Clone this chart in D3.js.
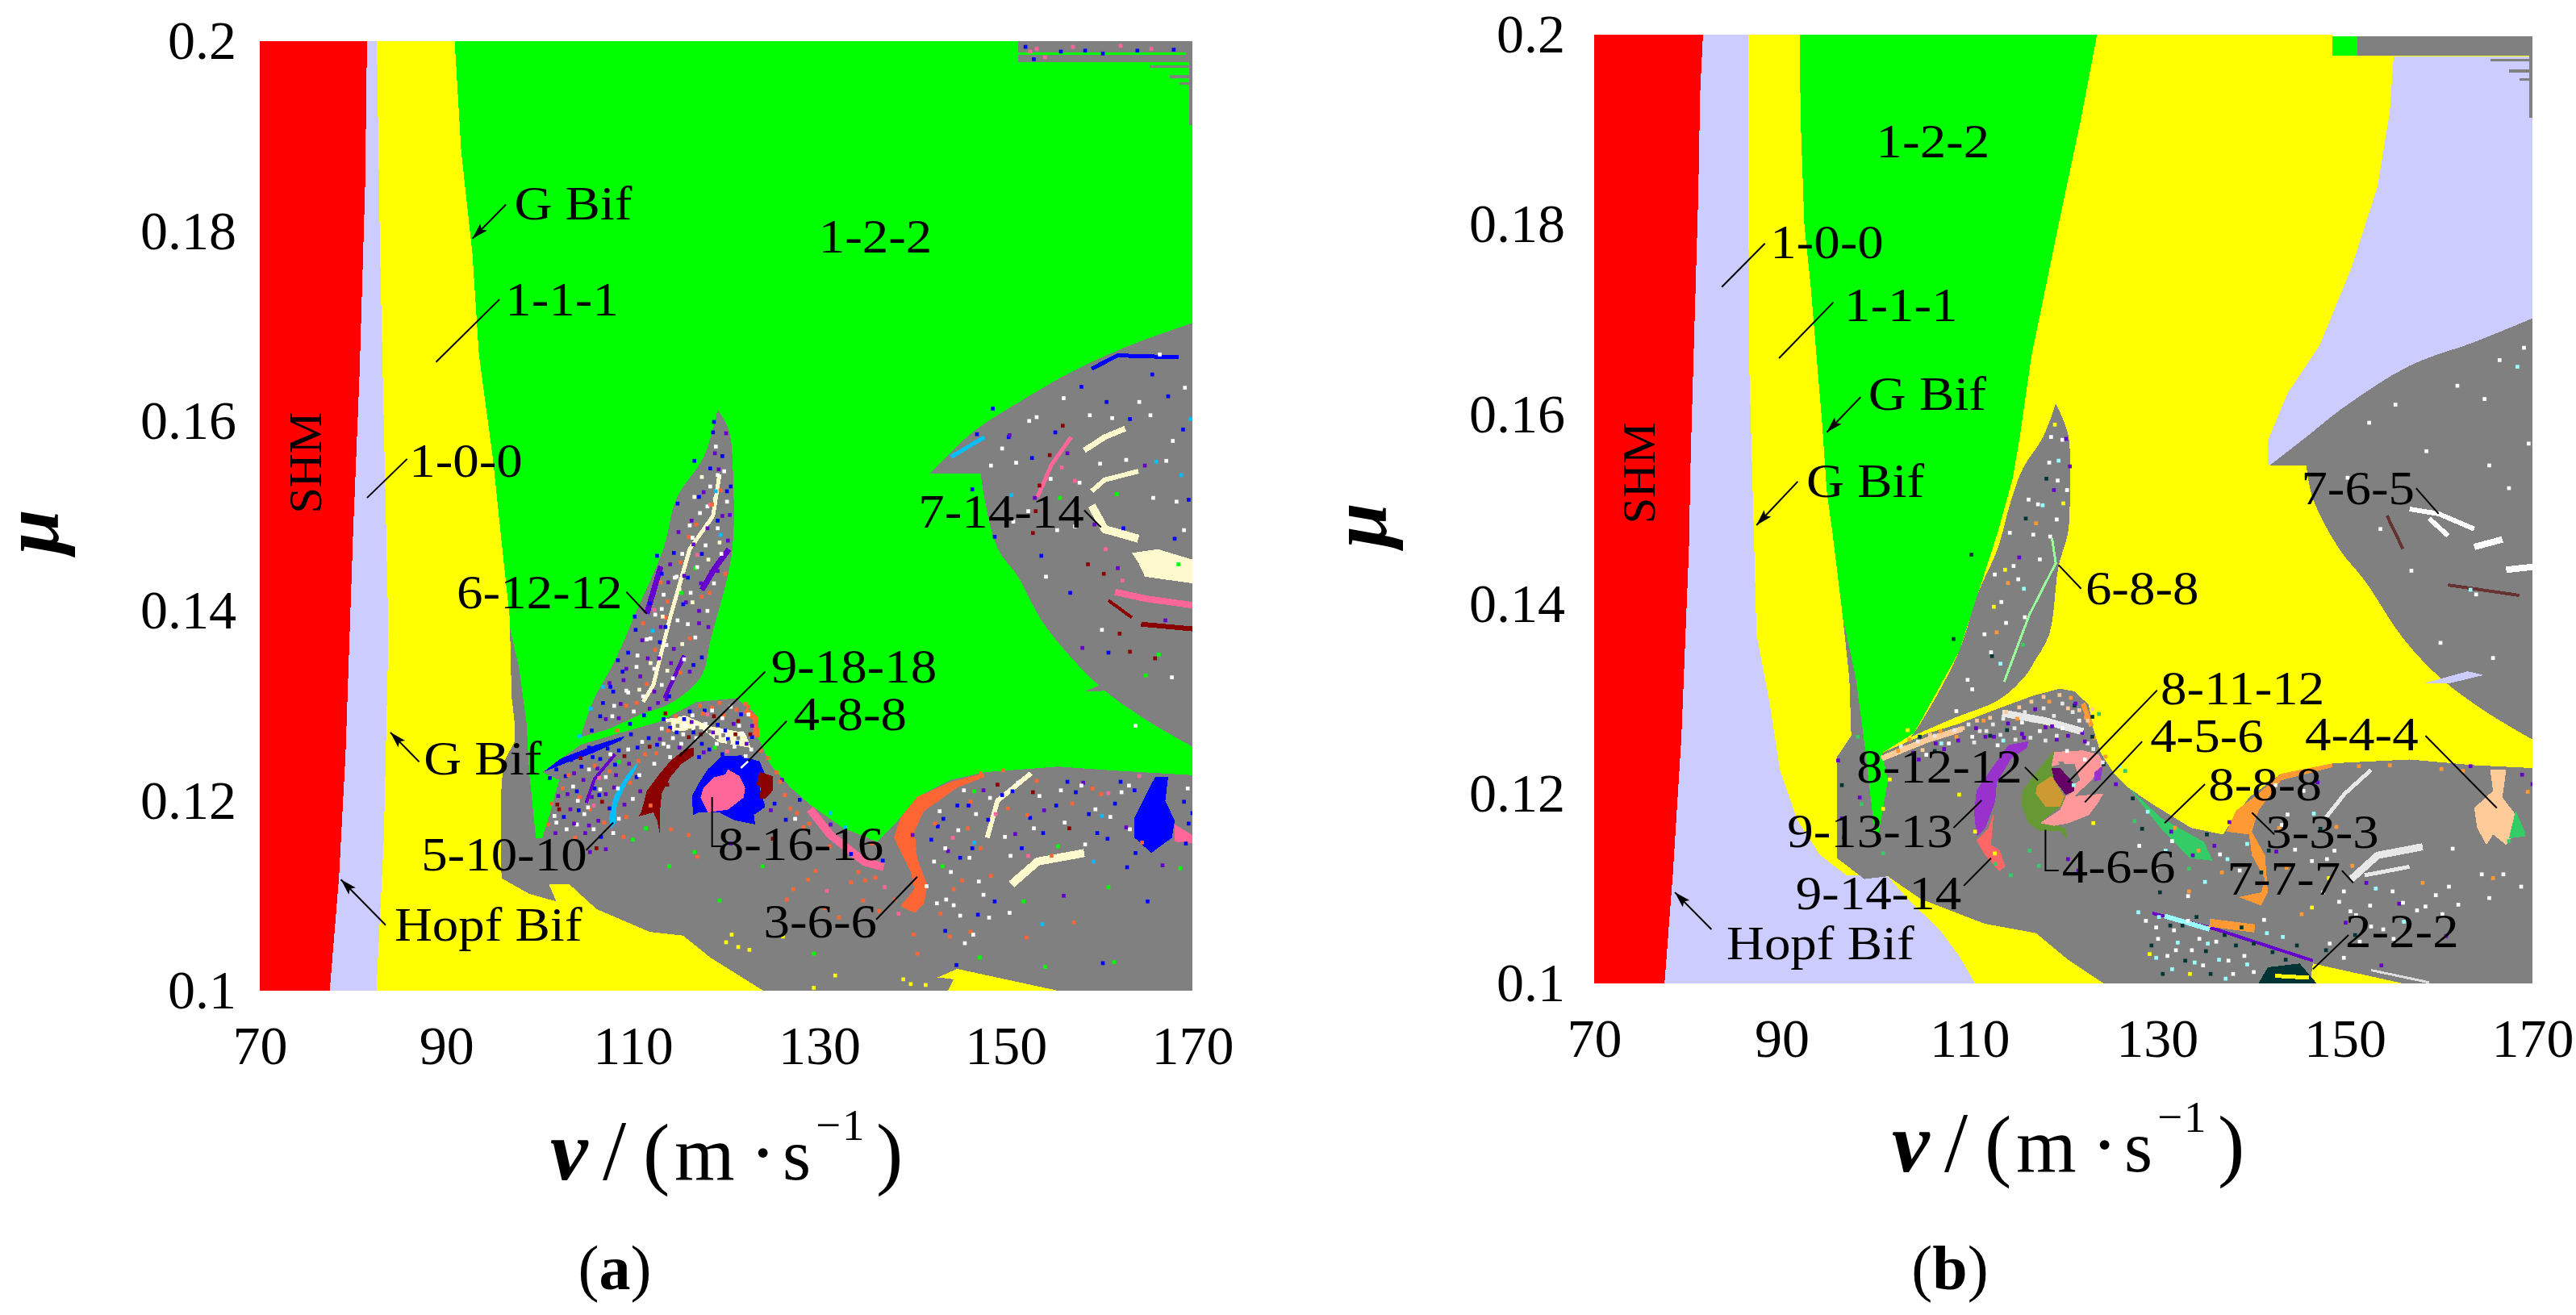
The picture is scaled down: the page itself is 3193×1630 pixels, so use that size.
<!DOCTYPE html>
<html>
<head>
<meta charset="utf-8">
<script src="https://cdn.jsdelivr.net/npm/d3@7"></script>
<style>
html, body { margin: 0; background: #fff; }
text { font-family: "Liberation Serif", serif; fill: #000; }
</style>
</head>
<body>
<svg width="3193" height="1630"></svg>
<script>
var vTicks = [70, 90, 110, 130, 150, 170];
var muTicks = [0.1, 0.12, 0.14, 0.16, 0.18, 0.2];

// ---- panel (a) regions, [v, mu]
var aRed = [[70,.2],[81.5,.2],[81.3,.185],[80.7,.165],[80,.148],[79.2,.125],[78.5,.112],[77.5,.1],[70,.1]];
var aLav = [[80,.2],[82.55,.2],[82.9,.1776],[83.8,.1375],[83.3,.116],[82.55,.1],[76,.1]];
var aYellow = [[90.9,.2],[91.6,.1884],[92.8,.1776],[93.5,.167],[95,.156],[96,.1466],[96.8,.1393],[97,.131],[97.3,.1284],[97.3,.1262],[96.1,.1239],[95.9,.1211],[95.9,.1125],[96,.1118],[98.9,.1102],[101.8,.1094],[101,.1112],[103.2,.1112],[106.1,.1086],[111.8,.1062],[115.4,.1058],[118.3,.1035],[124,.1],[82.5,.1],[83.3,.116],[83.8,.1375],[82.9,.1776],[82.55,.2]];
var aYellow2 = [[142.7,.1014],[144.8,.1023],[149,.1014],[155.6,.1],[143.8,.1],[144.4,.1012]];
var aBlob = [[96.8,.1383],[97.8,.134],[98.6,.1282],[98.9,.1229],[99.6,.1161],[100.3,.1161],[101.1,.1186],[102.1,.1222],[100.3,.123],[104.4,.1259],[108.1,.127],[112.8,.1283],[116.8,.1304],[121.1,.1308],[123,.1293],[123.3,.1267],[123.7,.1261],[124.7,.1239],[126.9,.1214],[129,.1196],[132.6,.1171],[136.2,.1157],[138.4,.1179],[140.5,.1204],[144.1,.1222],[147.7,.123],[155.6,.1236],[161.3,.1232],[170,.1227],[170,.1],[95,.1],[95,.1383]];
var aHorn = [[119.1,.1612],[119.1,.1612],[117.6,.1562],[114.7,.1519],[113.3,.1466],[110.4,.14],[108.2,.135],[105.7,.1304],[104.4,.1267],[104.4,.1267],[107.5,.1276],[110.6,.129],[114.3,.1304],[117.4,.1332],[118.3,.1368],[120.4,.1447],[120.8,.1483],[120.8,.1526],[120.3,.159]];
var aRight = [[170,.1703],[170,.1703],[164.2,.1683],[157.7,.1655],[150.6,.1615],[146.3,.1587],[141.9,.1545],[141.9,.1545],[147.3,.1545],[147.3,.1545],[147.7,.1519],[149.1,.1466],[151.3,.1436],[154.1,.1386],[159.9,.1322],[164.9,.1286],[170,.1257],[170,.1257]];
var aTop = [[151.3,.2],[170,.2],[170,.1978],[151.3,.1978]];
var aBit = [[158.4,.1315],[160.6,.1324],[164.5,.1329],[164.9,.1318],[161.3,.1316]];
var aDarkRed = [[116.5,.12558],[115.6,.12544],[114,.12416],[112.8,.12275],[111.5,.12105],[110.9,.11878],[110.6,.11835],[112.2,.11878],[112.6,.11793],[112.9,.11651],[112.9,.11878],[113.1,.12076],[114,.12246],[115.2,.12388],[116.5,.12473]];
var aBlue = [[119.57,.12473],[121.43,.12473],[123.59,.12416],[124.21,.12275],[123.59,.12133],[124.21,.11935],[122.97,.1185],[123.13,.1175],[120.96,.11793],[119.26,.11878],[117.1,.11878],[116.48,.1185],[116.33,.12048],[117.1,.1219],[118.03,.12331],[118.96,.12416]];
var aPink = [[120.19,.12331],[121.43,.1226],[122.05,.12133],[121.89,.12034],[120.19,.11906],[118.03,.11878],[117.26,.12034],[117.56,.12133],[118.65,.12246],[119.88,.12275]];
var aDarkRed2 = [[123.59,.12303],[124.98,.1226],[124.98,.12105],[124.21,.1202],[123.59,.1202],[123.74,.12133],[123.28,.12175]];
var aCyan = [[110.6,.12416],[109.38,.12275],[107.99,.12048],[107.46,.11821],[107.68,.11708],[108.14,.11765],[108.3,.11963],[109.07,.12133],[110.3,.12331]];
var aCream = [[113.4,.12856],[115.56,.12898],[118.34,.12785],[122.05,.12714],[122.66,.12558],[119.26,.12615],[117.41,.12756],[114.32,.12728]];
var aBlueTip = [[100.4,.12303],[102.27,.12445],[105.98,.12586],[108.76,.12671],[109.2,.1268],[108.76,.12635],[105.67,.12501],[102.58,.12388]];
var aOrange = [[147.7,.1229],[144.1,.122],[140.5,.1204],[138.7,.1182],[138,.1161],[139.1,.1139],[139.8,.1125],[140.2,.1107],[138.7,.1089],[140.2,.1082],[141.2,.1091],[141.6,.1111],[140.5,.1139],[140.2,.1168],[141.2,.1189],[144.8,.1214],[147.7,.1225]];
var aBigBlue = [[166,.1225],[167.4,.1225],[167.1,.12],[168.1,.1179],[167.8,.1161],[165.6,.1145],[163.8,.1161],[163.8,.1182],[164.9,.1204]];
var aPinkEdge = [[168.1,.1175],[170,.1164],[170,.1155],[168.1,.1157]];
var aCreamPatch = [[163.5,.1461],[166.3,.1465],[170,.1454],[170,.1429],[164.9,.1436],[164.2,.1451]];

// ---- panel (a) streaks
var aHornCream = [[119.3,.1544],[118.6,.15],[116.1,.1465],[114,.1393],[112.2,.1322],[111.1,.1304]];
var aHornPurple1 = [[120.3,.1465],[118.8,.1445],[117.4,.1422]];
var aHornPurple2 = [[111.5,.1397],[113,.1447]];
var aHornPurple3 = [[115.5,.1353],[113.4,.1308]];
var aCrescPurpleS = [[105,.1198],[105.9,.1223],[108.1,.1249]];
var aS1 = [[162.8,.1592],[160.6,.1583],[158.4,.1569]];
var aS2 = [[164.2,.1547],[160.6,.1538],[159.2,.1526]];
var aS3 = [[159.2,.1511],[160.6,.1486],[164.2,.1476]];
var aPinkS1 = [[161.7,.142],[164.9,.1413],[170,.1406]];
var aPinkS2 = [[157,.1583],[154.9,.1554],[153.4,.152]];
var aDarkS1 = [[164.5,.1386],[170,.1381]];
var aDarkS2 = [[161,.1411],[163.5,.1393]];
var aBlueS = [[159.2,.1655],[162,.1669],[168.5,.1667]];
var aCyanS = [[144.1,.1562],[147.7,.1583]];
var aCreamS1 = [[152.7,.1229],[149.1,.12],[148,.1161]];
var aCreamS2 = [[158.4,.1145],[153.4,.1136],[150.6,.1112]];
var aPinkTrail = [[129,.1191],[131.2,.1164],[134.8,.1136],[136.9,.113]];
var aOrangeTop = [[122.05,.12955],[123.1,.1287],[123.3,.1267]];
var aGreenLine = [[151.3,.1987],[169.3,.1987]];
var aStep1 = [[165.4,.1973],[170,.1973]];
var aStep2 = [[167.6,.1963],[170,.1963]];
var aStep3 = [[168.6,.1955],[170,.1955]];
var aStepEdge = [[169.8,.1978],[169.8,.1912]];

// ---- panel (a) speckle cells
var aBlueDots = [[108.2,.135],[107.4,.1322],[106.6,.1305],[110,.1396],[112.4,.146],[114.6,.1515],[116.4,.156],[118.4,.159],[119.4,.1565],[120.3,.1533],[118.9,.1497],[115.7,.1437],[113.3,.1385],[109.5,.1283],[111,.1292],[113.8,.1279],[115.3,.1288],[117.5,.1297],[119.7,.1276],[121,.1263],[122.6,.1269],[116.9,.1248],[118,.1256],[105.5,.1248],[107.9,.124],[110.2,.1227],[104,.1192],[106.2,.1208],[125,.1199],[126.2,.1182],[127.7,.1203],[133.2,.1146],[136.6,.1139],[142.5,.1175],[144.6,.1197],[146.2,.1152],[148.6,.1096],[150.5,.1212],[152.4,.1184],[155.2,.1197],[157.3,.1211],[159.6,.1168],[161.5,.1199],[162.8,.1132],[168.9,.1201],[169.4,.1178],[165,.1096],[160.2,.1031],[146.7,.1588],[148.4,.1615],[150.1,.1585],[152.6,.1563],[155.1,.159],[157.9,.1638],[160.6,.1622],[163.1,.1604],[165.5,.1651],[167.2,.1628],[168.8,.1593],[146.2,.153],[148.6,.148],[153.6,.146],[156.7,.1421],[160.8,.1358],[167.9,.1478],[169.4,.1519],[162.4,.1489]];
var aPurpleDots = [[116.1,.1497],[117.4,.1527],[118.6,.1568],[113.8,.1451],[111.9,.1418],[110.8,.1371],[112.6,.1352],[114.2,.1362],[115.5,.1411],[116.9,.1389],[118.2,.1443],[119.4,.1502],[107.3,.1326],[109.1,.1341],[108.5,.1304],[112.1,.1317],[113.4,.1309],[103.5,.1231],[105.4,.1206],[106.1,.1181],[107.8,.1216],[104.7,.1168],[102.8,.1209],[108.9,.1198],[106.9,.1151],[125.8,.1224],[124.6,.1192],[120.3,.1157],[131,.1177],[139.8,.1166],[143.6,.1149],[147.4,.1213],[150.8,.1167],[153.9,.1192],[158.1,.1221],[162.7,.1174],[166.6,.1134],[156,.1102],[150.2,.1587],[152.9,.1521],[156.4,.1568],[159.3,.1493],[161.8,.1447],[164.7,.1555],[158,.1363],[166.9,.1392]];
var aOrangeDots = [[100.7,.1177],[102.3,.1215],[103.6,.1163],[105.2,.1193],[109.1,.1185],[110.4,.1244],[111.7,.1197],[113.9,.1172],[115.8,.1166],[116.7,.1143],[119.6,.1292],[120.9,.1298],[122.2,.1301],[118.3,.13],[117.3,.1294],[113.6,.1276],[125.6,.1222],[126.7,.1194],[128.1,.1174],[129.4,.1128],[127,.1109],[130.4,.1089],[133.2,.1116],[134.5,.1097],[137.9,.1098],[142.3,.1202],[145.7,.1173],[147.1,.1231],[149.5,.1234],[152.1,.1187],[154.7,.1144],[157.1,.1074],[160,.1209],[164.4,.1158],[146,.1064],[139.9,.1061],[110.9,.1389],[112.8,.1432],[115.8,.148],[113.3,.1395],[117.2,.1417],[143.8,.1059],[152,.1058]];
var aWhiteDots = [[110.3,.1355],[111.7,.1373],[112.9,.1404],[114.5,.1438],[116.2,.1479],[117.8,.1512],[118.9,.1545],[109.3,.1316],[107.6,.1291],[115.7,.1388],[103.8,.1177],[105,.1195],[106.9,.1227],[108.3,.1183],[101.6,.1179],[113.1,.1262],[115.2,.1272],[116.5,.1281],[119.3,.1275],[121.2,.1281],[122.5,.1256],[127.2,.1183],[143.3,.1152],[144.7,.1171],[145.9,.1142],[146.9,.1117],[148.1,.1205],[150.3,.1144],[143.4,.1098],[144.9,.1081],[146.3,.1061],[141.3,.1112],[152.8,.1173],[155.7,.1213],[158.3,.1156],[161,.1185],[163,.1218],[149.4,.1573],[152.3,.1602],[154.6,.1541],[157.2,.1491],[150.6,.1496],[154.1,.1438],[158.8,.1608],[167,.156],[169,.1637],[168.1,.1517],[165.3,.1608],[160.1,.1382],[167.6,.1332],[163.7,.1281]];
var aGreenDots = [[109.8,.1161],[113.7,.1133],[116.4,.1148],[119.1,.1097],[123.7,.1133],[129.2,.1041],[147,.1037],[154,.1027],[151.7,.1096],[155.4,.1154],[160.8,.1111],[161.4,.1032],[118.6,.1258],[108.3,.1243],[115,.1421],[116.5,.1447],[155.6,.1521],[161.7,.1525],[168.3,.1451],[164.8,.1334],[166.2,.1356],[143,.1133],[146.4,.1212],[168.5,.1131],[111.2,.1173]];
var aYellowDots = [[120.4,.1061],[121.1,.1048],[119.8,.1053],[122.3,.1045],[125.9,.1059],[131.5,.1018],[138.8,.1014],[139.6,.1009],[141.2,.1008],[129.2,.1005]];
var aDarkDots = [[154.5,.1566],[155.9,.1597],[153.4,.1534],[153,.1507],[152.7,.1484],[157.4,.1512],[158.6,.1451],[160.3,.1441],[162,.1378],[163.1,.1359],[165.8,.1352],[108.9,.1249],[113.5,.1219],[124.8,.1162],[101.7,.1198],[121.1,.1286],[117.1,.1272],[148.9,.1219],[152.7,.1211],[156.6,.1173]];
var aCyanDots = [[165.9,.1559],[168.6,.1545],[169.6,.1604],[150.4,.1524],[104.1,.127],[105.3,.1299],[106.6,.1322],[118.7,.1528],[119.2,.1482],[111.9,.1381],[131,.1189],[132.6,.1174],[146.4,.1158],[153.7,.1072],[160.1,.1186],[159.2,.1138]];
var aPinkDots = [[118.1,.1514],[116.7,.1461],[112.1,.1403],[130.6,.1107],[136.8,.1111],[138.3,.1083],[144.1,.1163],[148.7,.1188],[152.2,.1144],[160.8,.121],[164.1,.1228],[106.2,.1226],[105.6,.1197],[117.8,.1293],[119.9,.1254],[155.8,.1553],[157.2,.1539],[160.5,.1467],[162.3,.1434]];
var aHornWhite = [[118.7,.1575],[119.6,.1549],[118.1,.1533],[119.9,.1517],[117,.1505],[118.9,.1489],[115.9,.1492],[117.6,.1471],[119.3,.1462],[115.1,.1462],[116.7,.1448],[118.5,.1431],[114.3,.1437],[113.1,.1419],[116,.1421],[117.8,.1402],[112.2,.1398],[114.6,.1392],[116.5,.1374],[111.3,.1372],[113.4,.1366],[115.3,.1351],[110.2,.1343],[112.1,.1341],[114.1,.1331],[109.1,.1318],[110.9,.1312],[112.9,.1324],[107.8,.1302],[109.9,.1296]];
var aHornPurple = [[119.8,.1589],[119,.1551],[120.2,.1503],[117.8,.1489],[116.3,.1472],[114.7,.1485],[118.9,.1444],[120,.1476],[117.1,.1431],[115.3,.1439],[113.6,.1432],[112.8,.1385],[116.9,.1402],[117.9,.1385],[111.4,.1352],[113.9,.1347],[115.9,.1338],[110.6,.1333],[112.5,.1305],[108.8,.1329],[106.9,.1288],[108.3,.1289],[111.6,.1299]];
var aHornBlue = [[118.5,.1601],[119.9,.1528],[118.1,.1552],[116.9,.1522],[117.2,.1462],[114.2,.1463],[112.9,.1441],[115.2,.1409],[111.6,.141],[110.1,.1382],[109.3,.1358],[108.7,.1338],[107.7,.1317],[106.3,.1291],[105.4,.1276],[116.3,.1345],[117.2,.1353],[113.7,.1312],[112.7,.1369]];
var aHornOrange = [[119.2,.1529],[118.3,.1514],[116.6,.1493],[114.9,.1453],[119.7,.1441],[118,.1421],[113.5,.1412],[115.9,.1373],[112.2,.1361],[114.9,.1337],[110.2,.1305],[108.1,.1276],[109.1,.1302],[111.3,.1325]];
var aHornCreamDots = [[117.2,.1543],[118.6,.152],[116.4,.1522],[119.1,.1474],[117.9,.1456],[114.8,.1425],[116.2,.1411],[113,.1396],[115.1,.1367],[111.7,.1347],[113.5,.1339],[110.5,.1319]];
var aCrescWhite = [[112.9,.1278],[114.1,.1268],[115.4,.1281],[116.2,.1292],[117.6,.1283],[118.3,.1297],[119.4,.1289],[120.3,.1301],[121.5,.1273],[122.2,.1293],[113.6,.1259],[115,.1262],[116.6,.1268],[118.8,.1262],[120.7,.1259],[121.9,.1249],[110.8,.1264],[109.3,.1256],[107.4,.1251],[105.1,.1235],[103.4,.1217],[106.3,.1214],[104.6,.1188],[102.7,.1172],[101.4,.1186],[108.2,.1215],[109.8,.1204],[103.9,.1202],[105.6,.1172],[107.7,.1168],[110.5,.1229],[112.1,.1241],[113.8,.1248]];
var aCrescBlue = [[100.9,.1226],[101.6,.1235],[102.6,.1228],[103.2,.1245],[104.3,.1238],[105.1,.1258],[106.3,.1246],[107.1,.1257],[108.3,.1255],[109.6,.1272],[110.3,.1258],[111.5,.1268],[112.4,.1261],[113.1,.1288],[114.5,.1274],[115.9,.1296],[116.3,.1274],[117.2,.1262],[118.9,.1282],[120,.1267],[121.4,.1293],[122.7,.1241],[121.3,.1248],[119.4,.1251],[103.8,.1212],[105.7,.1215],[107.3,.1194],[106.4,.1164],[102.4,.1185]];
var aCrescPurple = [[101.8,.1207],[103.1,.1193],[104.5,.1224],[106,.1236],[106.9,.1209],[108,.1229],[109.4,.1241],[110.6,.1212],[101.5,.1168],[103.5,.1178],[105.2,.1148],[105.1,.1176],[112.7,.1267],[114.8,.1258],[116.1,.1285],[118.4,.1274],[120.6,.1283],[122,.1262],[122.6,.1281],[117.4,.1253]];
var aCrescOrange = [[101.1,.1199],[102.9,.1229],[104.1,.1206],[105.7,.1239],[106.7,.1179],[107.3,.1233],[108.8,.1164],[109.5,.1221],[111.1,.1251],[112.3,.1252],[114.4,.1291],[117,.1302],[119.1,.1305],[121.9,.1304],[122.9,.1274],[123.5,.1255],[124.3,.1247],[125.2,.1232],[126.1,.1208],[127.4,.1189],[128.7,.1178],[130.9,.1154],[132.6,.1142],[134,.1127],[135.8,.1121],[135.4,.1157]];
var aCrescDark = [[104.2,.1247],[106.5,.1201],[101.9,.1193],[105.9,.1152],[111.6,.1259],[113.3,.1294],[115.8,.1269],[118.5,.1291],[120.8,.1272],[122.4,.1272]];
var aGrayOnCream = [[114.6,.1281],[115.9,.1276],[117.1,.1288],[118,.1275],[118.8,.1269],[120.1,.1264],[121.1,.1268],[119.5,.1271],[116.7,.1279],[113.7,.1283]];
var aLowWhite = [[142.7,.1191],[143.9,.1127],[145.3,.1213],[146.6,.1188],[147.4,.1103],[149.7,.1164],[151.1,.1221],[153.4,.1207],[156.1,.1179],[157.9,.1218],[159.4,.1193],[162.2,.1211],[163.1,.1172],[169.3,.1215],[148,.1079],[150.2,.1084],[145.4,.1052],[144.2,.1092],[142.4,.1094],[142.1,.1138]];
var aLowBlue = [[141.8,.1161],[143.1,.1183],[144.9,.1142],[145.8,.1197],[147.9,.1182],[149.4,.1208],[151.5,.1152],[153.8,.1168],[156.4,.1222],[158.7,.1188],[160.7,.1162],[162.1,.1222],[163.6,.1213],[169.1,.1157],[169.8,.1189],[146.8,.1082],[143.3,.1065],[144.5,.1029],[163.7,.1147]];
var aLowOrange = [[142.2,.1178],[144.2,.1109],[146,.1201],[148.2,.1123],[150,.1194],[153.1,.1223],[156.9,.1199],[159.1,.1215],[147.1,.1152],[134.7,.1118],[136.2,.1086],[131.9,.1079],[128.6,.1119],[126.3,.1098],[140.3,.1041],[142.8,.1083],[145.1,.1118]];
var aCircleWhite = [[148.2,.1555],[150.9,.1558],[152.2,.1507],[155.3,.1487],[157.7,.1537],[159.9,.1557],[162.7,.1561],[165.6,.1521],[167.7,.1581],[168.9,.1487],[164.1,.1622],[166.3,.1672],[161.2,.1605],[156,.1626],[153.1,.1606]];
var aTopBlue = [[151.9,.1996],[152.8,.1983],[155.7,.1991],[158.3,.1992],[160.2,.1989],[163.9,.1992],[167.8,.1993]];
var aTopPink = [[152.4,.1991],[153.1,.1994],[154,.1985],[157,.1996],[162.1,.1997],[165.4,.1994]];

// ---- panel (a) text
var aLabels = [["G Bif",103.6,.1829],["1-2-2",136,.1794],["1-1-1",102.4,.1728],["1-0-0",92.1,.1558],["7-14-14",149.5,.1504],["6-12-12",100,.1419],["9-18-18",133.7,.1341],["4-8-8",133.3,.1291],["G Bif",93.9,.1244],["5-10-10",96.2,.1143],["8-16-16",128,.1154],["Hopf Bif",94.5,.1069],["3-6-6",130.1,.1073]];
var aLeaders = [[[95.7,.1728],[88.9,.1662]],[[85.8,.156],[81.5,.1519]],[[158.4,.1506],[160.2,.1488]],[[109.3,.142],[111.5,.1397]],[[124.2,.1336],[115,.1247]],[[126.5,.1284],[122.36,.12416]],[[105,.1148],[107.9,.1177]],[[118.5,.1204],[118.5,.1152],[119.6,.1152]],[[136.1,.1075],[140.5,.112]]];
var aWhiteLeaders = [[[122.36,.12416],[121.58,.12345]]];
var aArrows = [[[96.4,.1828],[92.8,.1792]],[[87.1,.1241],[84,.1272]],[[83.5,.1069],[78.7,.1117]]];
var aShm = [74.9, .1556];

// ---- panel (b) regions
var bRed = [[70,.2],[81.6,.2],[81.3,.194],[81.1,.1833],[80.8,.173],[80.3,.156],[80.1,.1458],[79.3,.126],[78.4,.1117],[77.5,.1],[70,.1]];
var bLavLeft = [[80,.2],[86.4,.2],[86.5,.166],[86.9,.1518],[87.3,.1368],[88.7,.1296],[89.8,.1225],[91.7,.1171],[94.1,.1135],[96.9,.1114],[101.3,.1113],[103.4,.1089],[106.8,.1057],[108.9,.1029],[110.6,.1],[76,.1]];
var bLavRight = [[155.2,.1977],[154.8,.1919],[153.5,.184],[150.7,.1754],[147.3,.1672],[143.9,.1622],[141.8,.1572],[141.8,.1547],[170,.1547],[170,.1977]];
var bBlob = [[100.62,.12426],[105.2,.12625],[108.9,.12738],[112.6,.1288],[116.9,.13036],[119.65,.13107],[121.2,.13078],[122.7,.12937],[123.2,.12682],[124,.12426],[125.5,.122],[127,.12058],[129.5,.1189],[133.6,.1164],[137,.1157],[139.8,.1196],[143.2,.1221],[148.7,.1232],[156.9,.1236],[163.8,.123],[170,.1227],[170,.1],[124.3,.1],[120.5,.1025],[117.1,.1053],[111.6,.1063],[104.8,.1089],[101.3,.1113],[98.8,.111],[95.9,.1132],[95.9,.1239],[97.4,.1261],[97.2,.1321],[96.5,.1386]];
var bGreen = [[91.9,.2],[123.6,.2],[121.9,.1912],[119.5,.18],[116.6,.1661],[115.3,.1572],[114.6,.1532],[113,.1475],[110.9,.1411],[108.9,.135],[104.1,.1264],[100.7,.1243],[101.3,.1214],[100.3,.1157],[99.9,.116],[99.3,.121],[98.9,.1246],[97.9,.1321],[96.5,.1386],[95.4,.1475],[94.8,.1518],[94.3,.159],[93.7,.1661],[93.1,.1733],[92.4,.18],[92,.1912]];
var bHorn = [[119.2,.1611],[119.2,.1611],[117.8,.1575],[115.7,.1543],[114.4,.1508],[113,.1458],[110.9,.1411],[108.9,.135],[106.1,.1296],[104.1,.1264],[103.7,.12596],[103.7,.12596],[108.3,.12795],[113.2,.12993],[116,.13248],[116.9,.1339],[118.5,.1368],[119.5,.144],[120.5,.1475],[120.7,.1518],[120.5,.1579]];
var bRight = [[170,.1701],[170,.1701],[163.8,.1676],[156.9,.1651],[150,.1608],[145.9,.1576],[142,.1546],[142,.1546],[145.9,.1546],[145.9,.1546],[146.6,.1511],[149.4,.1458],[152.1,.1425],[156.2,.1364],[160.3,.1321],[165.1,.1286],[170,.1257],[170,.1257]];
var bTopGreen = [[148.7,.1998],[151.3,.1998],[151.3,.1978],[148.7,.1978]];
var bTopGray = [[151.3,.1998],[170,.1998],[170,.1978],[151.3,.1978]];
var bTopWhite = [[148.7,.2],[170,.2],[170,.1998],[148.7,.1998]];
var bPurple = [[116.28,.12554],[114.13,.12511],[112.29,.12256],[110.75,.1203],[110.5,.11803],[110.75,.11548],[111.67,.11633],[112.75,.11916],[112.9,.12115],[114.44,.1237],[116.12,.12483]];
var bSalmon = [[112.6,.11803],[112,.11633],[110.75,.11505],[111.67,.1135],[113.2,.1118],[113.82,.11236],[113.2,.11406],[112.29,.11463]];
var bOlive = [[119.04,.12455],[116.89,.122],[115.66,.1203],[115.51,.11888],[116.28,.1169],[117.5,.11605],[119.66,.11605],[120.42,.1152],[120.27,.11633],[117.81,.11718],[119.96,.11888],[120.12,.11973],[119.04,.12143],[118.89,.12313]];
var bGold = [[118.73,.12186],[117.2,.12086],[117.05,.12001],[118.12,.1186],[119.66,.1186],[120.12,.11973],[119.04,.12143]];
var bPinkShape = [[119.04,.12441],[122.11,.12455],[123.8,.12412],[124.26,.12313],[123.03,.12143],[121.19,.11973],[124.26,.12001],[123.8,.11916],[122.73,.11775],[120.58,.1169],[119.04,.11661],[117.5,.1169],[119.66,.11831],[120.27,.11973],[121.19,.1203],[121.19,.12171],[119.96,.12341],[119.35,.12341],[119.66,.12313],[118.73,.12285]];
var bPinkGray = [[119.66,.12313],[121.19,.12313],[121.8,.12143],[121.19,.121]];
var bDarkPurple = [[118.73,.12271],[119.66,.12271],[121.19,.121],[121.19,.1203],[120.27,.11987],[119.04,.12143]];
var bPurpleBit = [[123.34,.12228],[124.26,.12299],[123.95,.12143],[123.34,.12129]];
var bGreenTrail = [[127.02,.12058],[130.4,.11746],[135,.11491],[135.9,.11293],[133.5,.1132],[130.4,.11633]];
var bOrange = [[148.7,.1232],[143.2,.1221],[140.8,.12],[138.4,.1182],[137.4,.116],[139.8,.1157],[140.1,.1135],[141.5,.111],[141.1,.1096],[138.7,.1091],[141.1,.1082],[141.8,.1096],[141.5,.1135],[140.1,.116],[140.8,.1182],[143.2,.1214],[148.7,.1228]];
var bPeach = [[165.5,.1225],[167.2,.1225],[166.8,.1196],[168.2,.1178],[168.2,.116],[167.2,.1146],[165.8,.1157],[165.1,.1146],[164.1,.1164],[163.8,.1185],[165.8,.1203]];
var bGreenEdge = [[168.2,.1182],[169.2,.116],[169.2,.1155],[167.5,.1153]];
var bTeal = [[141.8,.1017],[145.2,.1021],[147,.1],[140.8,.1]];
var bYellowWedge = [[146.6,.1021],[156.2,.1],[146.3,.1]];
var bLavBit = [[158.3,.1316],[163.1,.1329],[164.8,.1325],[161,.1316]];

// ---- panel (b) streaks
var bHornLine = [[118.8,.1469],[119.2,.1443],[116.4,.1389],[113.7,.1318]];
var bGrayS1 = [[152.8,.1225],[150,.12],[148,.1175]];
var bGrayS2 = [[158.3,.1144],[153.5,.1135],[150.7,.111]];
var bGrayS3 = [[156.9,.1123],[152.1,.1114]];
var bPeachTop = [[100.62,.1237],[105.53,.12568],[109.22,.12682]];
var bGrayTop = [[113.5,.1285],[118.1,.12767],[122.1,.12653]];
var bOrangeTop = [[122.1,.1295],[123,.1271]];
var bPurpleS = [[129.5,.1074],[136.3,.1057],[146.6,.1024]];
var bCyanS = [[130.8,.1071],[135.6,.1057]];
var bOrangeS = [[135.6,.1064],[140.4,.1058]];
var bPaleS = [[152.8,.1014],[159,.1001]];
var bYellowBar = [[142.6,.1008],[146.2,.1006]];
var bWhite1 = [[156.9,.15],[160,.1495],[163.8,.1479]];
var bWhite2 = [[159,.149],[161,.1472]];
var bWhite3 = [[163.8,.146],[166.8,.1468]];
var bWhite4 = [[167.2,.1436],[170,.1439]];
var bBrown1 = [[154.5,.1493],[156.2,.1458]];
var bBrown2 = [[161,.142],[168.6,.1409]];
var bStep1 = [[165.5,.1973],[170,.1973]];
var bStep2 = [[167.5,.1962],[170,.1962]];
var bStep3 = [[168.6,.1953],[170,.1953]];
var bStepEdge = [[169.8,.1978],[169.8,.1912]];

// ---- panel (b) speckle cells
var bWhiteDots = [[112.5,.1433],[114.1,.1477],[116.1,.1512],[118.3,.1551],[119.7,.1575],[111.4,.137],[109.6,.1322],[113.7,.1382],[115,.1428],[117.3,.1449],[119.1,.1491],[120.2,.1522],[105.2,.1243],[107.6,.1255],[110.1,.1262],[112.8,.1253],[115.4,.1277],[117.3,.1268],[119.7,.1271],[121.5,.1279],[122.1,.1238],[120.2,.1247],[127.9,.1147],[129.6,.1121],[131.4,.1152],[133.1,.1094],[136.5,.1138],[138.6,.1121],[143.7,.118],[145.4,.1205],[147.9,.1133],[149.2,.1088],[151,.1074],[153.9,.1059],[129.7,.1061],[131.8,.1037],[134.3,.1049],[137.4,.1026],[141.2,.1069],[158.4,.1083],[160.9,.1104],[161.3,.1144],[164.4,.1117],[168.6,.1104],[152.4,.1593],[155.2,.1612],[158.5,.1563],[161.8,.1632],[164.7,.1618],[166.3,.1659],[168.9,.1672],[150.1,.1535],[153.6,.1481],[156.9,.1437],[163.8,.1412],[167.3,.1524],[169.4,.1571],[165.2,.1548],[160,.1361],[165.6,.1345]];
var bOrangeDots = [[113.9,.1424],[116.9,.1487],[112.7,.1372],[102.2,.1247],[103.4,.1259],[106.7,.1268],[108.4,.1262],[111.3,.1279],[114.9,.1281],[118.3,.1299],[120.6,.1303],[122.2,.1282],[123.1,.1261],[124.3,.1241],[131.7,.1166],[134.2,.1142],[136.7,.1119],[133.2,.1099],[143.6,.1124],[145.2,.1075],[142.8,.1166],[148.9,.1167],[150.6,.1126],[158.1,.1108],[165.6,.1113],[169.3,.1204],[160.1,.1228],[162.4,.1226],[154.6,.1232],[151.3,.1231]];
var bTealDots = [[110,.1454],[115.8,.1492],[118,.1534],[112.2,.1347],[108.1,.1365],[104.5,.1262],[106.1,.1247],[112,.1263],[113.8,.1269],[121,.1295],[122.9,.1262],[122.9,.1283],[124.1,.1233],[128.2,.1165],[130.1,.1098],[132.5,.1063],[135,.1036],[138.2,.1042],[142.1,.1035],[143.5,.1027],[140.9,.1119],[141.7,.1142],[147.2,.1165],[150.9,.1053],[155.1,.1042],[135.1,.1159],[96.2,.1211],[96.4,.1176],[127.2,.1197]];
var bPurpleDots = [[95.8,.1237],[96.2,.1176],[96.4,.1156],[98.1,.1198],[115.1,.1451],[118.8,.1522],[120.1,.1576],[120.5,.1547],[104.4,.1238],[107.1,.1249],[111.5,.1262],[115.6,.1261],[117.9,.1272],[119.1,.1259],[121.8,.1266],[120.3,.1133],[121.4,.1121],[125.4,.1212],[131.3,.1162],[133.6,.1137],[135.9,.1147],[137.5,.1172],[142.5,.1141],[146.9,.1214],[149.9,.1066],[153.7,.1021],[152.1,.1108],[155.6,.1086],[160.6,.1052],[163.2,.1231],[168.7,.1222],[169.8,.1212],[170,.1186]];
var bCyanDots = [[113.1,.1339],[115.6,.1418],[117.6,.1506],[119.3,.1553],[106.8,.1255],[113.4,.1258],[120.9,.1211],[125.8,.1231],[128.8,.1183],[130.7,.1142],[134.9,.1109],[137.3,.1133],[139.4,.1149],[130,.1072],[132,.1045],[136.4,.1027],[143.2,.1051],[146.5,.1181],[153.1,.1102],[156.1,.1067],[168.2,.1652],[163.2,.1417]];
var bYellowDots = [[100.6,.1186],[101.3,.1217],[103.2,.1269],[113.6,.1438],[112.4,.1399],[118.9,.1591],[119.8,.1508],[112.5,.1139],[110.4,.1162],[108.7,.1201],[123,.1171],[129,.1033],[133.3,.1012],[146.3,.1082],[148.1,.1113]];
var bGreenDots = [[97.9,.1262],[98.3,.1191],[100.6,.1139],[116.2,.1142],[117.2,.1126],[114.2,.1116],[112.6,.1128],[115.5,.1359],[123.6,.1286],[126.4,.1226],[127.4,.1173],[133.2,.1123],[167.3,.1152]];
var bCrescWhite = [[102.5,.1252],[104.3,.1257],[106.1,.1263],[108.2,.1269],[109.7,.1275],[110.9,.1268],[112.3,.1275],[113.4,.1281],[114.6,.1271],[115.7,.1288],[116.6,.1279],[117.7,.1292],[118.8,.1284],[119.7,.1297],[120.8,.1288],[121.7,.1269],[122.4,.1255],[119.1,.1263],[117.9,.1258],[116.3,.1261],[114.7,.1259],[113.1,.1264],[111.6,.1268],[110.3,.1256],[123,.1249],[124,.1235]];
var bCrescOrange = [[101.5,.1244],[103,.1251],[104.8,.1248],[105.6,.1264],[107.4,.1264],[109.1,.1271],[110.6,.1279],[112,.1282],[113.7,.1288],[115.1,.1293],[116.4,.1299],[117.7,.1304],[119.4,.1306],[120.3,.1292],[121.5,.129],[122.4,.1279],[122.9,.1291]];
var bCrescPurple = [[103.8,.1245],[106.2,.1255],[108.6,.1258],[110.5,.1271],[112.4,.1262],[113.9,.1276],[115.4,.1265],[116.8,.1291],[118.6,.1273],[120.3,.1263],[122.1,.1257],[121.1,.1297]];
var bLowWhite = [[128.6,.1068],[129.9,.1049],[130.9,.1031],[131.6,.1058],[133.1,.1068],[133.5,.1037],[134.7,.1021],[136.1,.1046],[137.9,.1012],[139.1,.1031],[140.1,.1014],[148.2,.1044],[149.7,.1029],[151.4,.1046],[152.6,.1062],[155,.1049]];
var bLowTeal = [[129.2,.1042],[130.4,.1012],[131.2,.1063],[132.8,.1026],[134,.1072],[135.5,.1012],[137,.1053],[138.8,.1061],[140.1,.1044],[144.7,.1042],[147.8,.1037]];
var bLowCyan = [[127.8,.1077],[129.7,.1029],[131.4,.1017],[133.8,.1024],[135.2,.1044],[137.1,.1007],[139.4,.1022],[141.5,.1055]];
var bRightLow = [[146.3,.1131],[147.5,.1098],[148.7,.1142],[149.7,.1099],[150.4,.1078],[152.5,.1084],[154.9,.1099],[156,.1087],[157.5,.1079],[159.5,.1095],[160.2,.1075],[161.9,.1085],[165.2,.1092],[166.7,.1117],[143.1,.1169],[144.5,.1143],[142.4,.1211],[145.1,.1221]];
var bHornWhite = [[118.5,.1578],[119.2,.1532],[117.1,.1507],[116.6,.1475],[114.5,.1442],[118.4,.1473],[113.2,.1404],[115.7,.1388],[112.1,.1351],[110.1,.1312],[108.4,.1289]];

// ---- panel (b) text
var bLabels = [["1-2-2",106.1,.1887],["1-0-0",94.8,.1781],["1-1-1",102.7,.1715],["G Bif",105.5,.1621],["G Bif",98.9,.1529],["7-6-5",151.4,.1522],["6-8-8",128.4,.1416],["8-11-12",139.1,.1311],["4-5-6",135.3,.1261],["4-4-4",151.8,.1262],["8-12-12",106.8,.1228],["8-8-8",141.5,.121],["3-3-3",147.6,.1159],["9-13-13",99.4,.116],["7-7-7",143.5,.111],["4-6-6",125.9,.1123],["9-14-14",100.3,.1095],["2-2-2",156.1,.1055],["Hopf Bif",94.1,.1042]];
var bLeaders = [[[88.2,.178],[83.6,.1734]],[[95.5,.1718],[89.7,.1659]],[[157.6,.1522],[160,.1495]],[[121.9,.1416],[119.5,.1441]],[[130,.1309],[120.5,.1212]],[[128.4,.1255],[122.3,.1191]],[[158.6,.1261],[166.2,.1185]],[[115.9,.1228],[117.3,.1214]],[[135.1,.121],[130.8,.1169]],[[142.5,.1157],[140.1,.118]],[[108.3,.1164],[111.3,.1193]],[[150.9,.1106],[149.7,.1119]],[[118.1,.1162],[118.1,.1119],[119.5,.1119]],[[109.4,.1103],[112.3,.1132]],[[150.4,.1051],[146.6,.1015]]];
var bArrows = [[[98.4,.1618],[94.8,.1581]],[[91.7,.1529],[87.3,.1483]],[[82.5,.1057],[78.6,.1096]]];
var bShm = [74.8, .1538];

// axis title pieces: text, x offset, y offset, size, weight, style
var titleParts = [
  ["v", 0, 0, 105, "bold", "italic"],
  ["/", 65, 0, 105, "normal", "normal"],
  ["(", 115, 0, 100, "normal", "normal"],
  ["m", 154, 0, 96, "normal", "normal"],
  ["\u00b7", 247, 0, 100, "normal", "normal"],
  ["s", 288, 0, 90, "normal", "normal"],
  ["\u2212", 329, -49, 55, "normal", "normal"],
  ["1", 362, -49, 55, "normal", "normal"],
  [")", 404, 0, 100, "normal", "normal"]
];

var RED = "#ff0000", LAV = "#ccccff", YEL = "#ffff00", GRN = "#00ff00", GRY = "#808080", WHT = "#ffffff";
var CREAM = "#fffacd", BLUE = "#0000ff", PUR = "#6600cc", ORA = "#ff6633", DRED = "#8b0000", PNK = "#ff6699", CYN = "#00bfff";

var panelA = {
  box: {left: 322, right: 1478, top: 51, bottom: 1228},
  bg: GRN,
  areas: [
    [aBlob, GRY], [aHorn, GRY, true], [aRight, GRY, true], [aTop, GRY], [aBit, GRY],
    [aLav, LAV], [aYellow, YEL], [aYellow2, YEL], [aRed, RED],
    [aBlueTip, BLUE], [aCream, CREAM], [aDarkRed, DRED], [aBlue, BLUE], [aPink, PNK], [aDarkRed2, DRED],
    [aCyan, CYN], [aOrange, ORA], [aBigBlue, BLUE], [aPinkEdge, PNK], [aCreamPatch, CREAM]
  ],
  streaks: [
    [aHornCream, CREAM, 5], [aHornPurple1, PUR, 7], [aHornPurple2, PUR, 7], [aHornPurple3, PUR, 5], [aCrescPurpleS, PUR, 4],
    [aS1, CREAM, 7], [aS2, CREAM, 6], [aS3, CREAM, 10], [aPinkS1, PNK, 8], [aPinkS2, PNK, 5], [aDarkS1, DRED, 6], [aDarkS2, DRED, 4],
    [aBlueS, BLUE, 5], [aCyanS, CYN, 5], [aCreamS1, CREAM, 6], [aCreamS2, CREAM, 10], [aPinkTrail, PNK, 10], [aOrangeTop, ORA, 7], [aGreenLine, GRN, 3],
    [aStep1, GRY, 3], [aStep2, GRY, 4], [aStep3, GRY, 3], [aStepEdge, GRY, 4]
  ],
  dots: [
    [aBlueDots, BLUE], [aPurpleDots, PUR], [aOrangeDots, ORA], [aWhiteDots, WHT], [aGreenDots, GRN],
    [aYellowDots, YEL], [aDarkDots, DRED], [aCyanDots, CYN], [aPinkDots, PNK],
    [aHornWhite, WHT], [aHornPurple, PUR], [aHornBlue, BLUE], [aHornOrange, ORA], [aHornCreamDots, CREAM],
    [aCrescWhite, WHT], [aCrescBlue, BLUE], [aCrescPurple, PUR], [aCrescOrange, ORA], [aCrescDark, DRED], [aGrayOnCream, GRY],
    [aLowWhite, WHT], [aLowBlue, BLUE], [aLowOrange, ORA], [aCircleWhite, WHT], [aTopBlue, BLUE], [aTopPink, PNK]
  ],
  labels: aLabels, leaders: aLeaders, whiteLeaders: aWhiteLeaders, arrows: aArrows, shm: aShm,
  tickGap: 29,
  titleX: 682, titleY: 1462, muX: 72, muY: 659, capX: 762
};

var panelB = {
  box: {left: 1976, right: 3139, top: 43, bottom: 1219},
  bg: YEL,
  areas: [
    [bLavLeft, LAV], [bLavRight, LAV], [bBlob, GRY], [bGreen, GRN], [bHorn, GRY, true], [bRight, GRY, true], [bTopGreen, GRN], [bTopGray, GRY], [bTopWhite, WHT], [bRed, RED],
    [bYellowWedge, YEL], [bPurple, "#9932cc"], [bSalmon, "#ff6666"], [bOlive, "#669933"], [bGold, "#cc9933"], [bPinkShape, "#ff9999"], [bPinkGray, GRY], [bDarkPurple, "#660066"], [bPurpleBit, "#9932cc"],
    [bGreenTrail, "#33cc66"], [bOrange, "#ff9933"], [bPeach, "#ffcc99"], [bGreenEdge, "#33cc66"], [bTeal, "#003333"], [bLavBit, LAV]
  ],
  streaks: [
    [bHornLine, "#99ff99", 3], [bGrayS1, "#e8e8e8", 5], [bGrayS2, "#e8e8e8", 9], [bGrayS3, "#e8e8e8", 5], [bPeachTop, "#ffcc99", 7], [bGrayTop, "#e8e8e8", 9], [bOrangeTop, "#ff9933", 6],
    [bPurpleS, PUR, 4], [bCyanS, "#99ffff", 6], [bOrangeS, "#ff9933", 10], [bPaleS, "#dddddd", 3], [bYellowBar, YEL, 5],
    [bWhite1, WHT, 6], [bWhite2, WHT, 6], [bWhite3, WHT, 8], [bWhite4, WHT, 8], [bBrown1, "#663333", 4], [bBrown2, "#663333", 4],
    [bStep1, GRY, 3], [bStep2, GRY, 4], [bStep3, GRY, 3], [bStepEdge, GRY, 4]
  ],
  dots: [
    [bWhiteDots, WHT], [bOrangeDots, "#ff9933"], [bTealDots, "#003333"], [bPurpleDots, PUR], [bCyanDots, "#99ffff"], [bYellowDots, YEL], [bGreenDots, "#33cc66"],
    [bCrescWhite, "#e8e8e8"], [bCrescOrange, "#ffcc99"], [bCrescPurple, PUR], [bLowWhite, WHT], [bLowTeal, "#003333"], [bLowCyan, "#99ffff"], [bRightLow, WHT], [bHornWhite, WHT]
  ],
  labels: bLabels, leaders: bLeaders, whiteLeaders: [], arrows: bArrows, shm: bShm,
  tickGap: 36,
  titleX: 2345, titleY: 1452, muX: 1718, muY: 651, capX: 2417
};

var svg = d3.select("svg");

svg.append("defs").append("marker")
  .attr("id", "head")
  .attr("viewBox", "0 0 10 6")
  .attr("refX", 10).attr("refY", 3)
  .attr("markerUnits", "userSpaceOnUse")
  .attr("markerWidth", 24).attr("markerHeight", 12)
  .attr("orient", "auto")
  .append("path").attr("d", "M0,0L10,3L0,6L2,3Z").attr("fill", "#000");

function drawPanel(p, id, caption) {
  var b = p.box;
  var x = d3.scaleLinear().domain([70, 170]).range([b.left, b.right]);
  var y = d3.scaleLinear().domain([0.1, 0.2]).range([b.bottom, b.top]);
  var line = d3.line().x(function(d) { return x(d[0]); }).y(function(d) { return y(d[1]); });
  var smooth = d3.line().x(line.x()).y(line.y()).curve(d3.curveCatmullRomClosed.alpha(0.5));
  var g = svg.append("g");

  g.append("clipPath").attr("id", "clip" + id).append("rect")
    .attr("x", b.left).attr("y", b.top).attr("width", b.right - b.left).attr("height", b.bottom - b.top);
  var plot = g.append("g").attr("clip-path", "url(#clip" + id + ")");

  plot.append("rect")
    .attr("x", b.left).attr("y", b.top).attr("width", b.right - b.left).attr("height", b.bottom - b.top)
    .attr("fill", p.bg);

  plot.selectAll(".area").data(p.areas).enter().append("path")
    .attr("d", function(d) { return d[2] ? smooth(d[0]) : line(d[0]) + "Z"; })
    .attr("fill", function(d) { return d[1]; })
    .attr("shape-rendering", "crispEdges");

  plot.selectAll(".streak").data(p.streaks).enter().append("path")
    .attr("d", function(d) { return line(d[0]); })
    .attr("fill", "none")
    .attr("stroke", function(d) { return d[1]; })
    .attr("stroke-width", function(d) { return d[2]; })
    .attr("shape-rendering", "crispEdges");

  p.dots.forEach(function(set) {
    plot.append("g").selectAll("rect").data(set[0]).enter().append("rect")
      .attr("x", function(d) { return x(d[0]); })
      .attr("y", function(d) { return y(d[1]); })
      .attr("width", x(70.4) - x(70))
      .attr("height", y(0.1) - y(0.1004))
      .attr("fill", set[1]);
  });

  // axes
  var ax = g.append("g").attr("transform", "translate(0," + b.bottom + ")")
    .call(d3.axisBottom(x).tickValues(vTicks).tickSize(0).tickPadding(43).tickFormat(d3.format("d")));
  ax.select(".domain").remove();
  var ay = g.append("g").attr("transform", "translate(" + b.left + ",0)")
    .call(d3.axisLeft(y).tickValues(muTicks).tickSize(0).tickPadding(p.tickGap).tickFormat(function(d) { return String(+d.toFixed(2)); }));
  ay.select(".domain").remove();
  g.selectAll(".tick text").attr("font-size", 68).attr("font-family", "Liberation Serif");

  // annotations
  var labelG = g.append("g");
  p.leaders.forEach(function(l) {
    labelG.append("path").attr("d", line(l)).attr("fill", "none").attr("stroke", "#000").attr("stroke-width", 2);
  });
  p.whiteLeaders.forEach(function(l) {
    labelG.append("path").attr("d", line(l)).attr("fill", "none").attr("stroke", "#fff").attr("stroke-width", 2.5);
  });
  p.arrows.forEach(function(l) {
    labelG.append("path").attr("d", line(l)).attr("fill", "none").attr("stroke", "#000").attr("stroke-width", 2)
      .attr("marker-end", "url(#head)");
  });
  labelG.selectAll(".lab").data(p.labels).enter().append("text")
    .attr("transform", function(d) { return "translate(" + x(d[1]) + "," + y(d[2]) + ") scale(1.1,1)"; })
    .attr("dy", "0.33em")
    .attr("text-anchor", "middle")
    .attr("font-size", 59)
    .text(function(d) { return d[0]; });
  labelG.append("text")
    .attr("transform", "translate(" + x(p.shm[0]) + "," + y(p.shm[1]) + ") rotate(-90)")
    .attr("dy", "0.33em")
    .attr("text-anchor", "middle")
    .attr("font-size", 58)
    .text("SHM");

  // axis titles
  titleParts.forEach(function(d) {
    g.append("text")
      .attr("x", p.titleX + d[1]).attr("y", p.titleY + d[2])
      .attr("font-size", d[3]).attr("font-weight", d[4]).attr("font-style", d[5])
      .text(d[0]);
  });

  g.append("text")
    .attr("transform", "translate(" + p.muX + "," + p.muY + ") rotate(-90)")
    .attr("text-anchor", "middle")
    .attr("font-size", 100).attr("font-weight", "bold").attr("font-style", "italic")
    .text("\u03bc");

  var c = g.append("text").attr("x", p.capX).attr("y", 1598).attr("text-anchor", "middle").attr("font-size", 78);
  c.append("tspan").text("(");
  c.append("tspan").attr("font-weight", "bold").text(caption);
  c.append("tspan").text(")");
}

drawPanel(panelA, "a", "a");
drawPanel(panelB, "b", "b");
</script>
</body>
</html>
